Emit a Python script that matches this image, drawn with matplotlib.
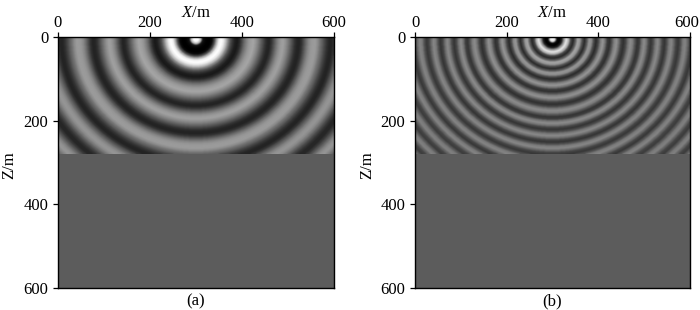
import numpy as np
import matplotlib
matplotlib.use('Agg')
import matplotlib.pyplot as plt
from matplotlib.transforms import ScaledTranslation

plt.rcParams['font.family'] = ['Liberation Serif', 'DejaVu Serif']
plt.rcParams['mathtext.fontset'] = 'custom'
plt.rcParams['mathtext.it'] = 'Liberation Serif:italic'
plt.rcParams['mathtext.rm'] = 'Liberation Serif'

# gray level every 5 m away from the source
radius_step = 5
gray_a = [255, 255, 190, 20, 5, 0, 0, 10, 70, 170, 240, 255, 235, 190, 130, 80, 50, 30, 25, 40,
          70, 105, 130, 150, 160, 165, 150, 130, 105, 80, 55, 38, 35, 55, 85, 115, 140, 155, 160, 145,
          125, 100, 75, 50, 37, 35, 50, 80, 110, 135, 150, 155, 155, 140, 115, 95, 70, 50, 37, 35,
          50, 80, 105, 130, 145, 150, 140, 120, 95, 70, 50, 38, 38, 55, 80, 105, 130, 145, 150, 135,
          115, 95, 70, 50, 38]
gray_b = [255, 230, 10, 0, 30, 150, 230, 180, 70, 40, 90, 165, 150, 80, 42, 85, 150, 140, 75, 42,
          70, 125, 150, 115, 60, 48, 85, 130, 145, 110, 65, 48, 70, 115, 140, 125, 85, 52, 62, 115,
          140, 118, 72, 52, 75, 118, 138, 110, 68, 52, 80, 122, 135, 105, 68, 55, 80, 122, 132, 105,
          68, 55, 85, 122, 132, 100, 68, 60, 90, 122, 128, 98, 68, 60, 90, 122, 128, 98, 68, 60,
          90, 122, 128, 98, 68]

source_x = 300
source_z = 7
wave_depth = 280
x_ticks = [0, 200, 400, 600]
z_ticks = [0, 200, 400, 600]
below_gray = 92


def smooth(img, size=5):
    """ Small box blur, the source picture is soft """
    pad = size // 2
    kernel = np.ones(size) / size
    img = np.pad(img.astype(float), pad, mode='edge')
    img = np.apply_along_axis(lambda v: np.convolve(v, kernel, mode='same'), 0, img)
    img = np.apply_along_axis(lambda v: np.convolve(v, kernel, mode='same'), 1, img)
    return img[pad:-pad, pad:-pad]


def wave_image(gray):
    """ Look up each 1 m cell in the radial gray list """
    x = np.arange(0, 601)
    z = np.arange(0, wave_depth + 1)
    xx, zz = np.meshgrid(x, z)
    r = np.hypot(xx - source_x, zz - source_z)
    idx = np.round(r / radius_step).astype(int)
    return smooth(np.array(gray)[idx])


def draw_panel(pos, gray, label):
    ax = fig.add_axes(pos)
    ax.set_facecolor(str(below_gray / 255))
    ax.imshow(wave_image(gray), cmap='gray', vmin=0, vmax=255, aspect='auto',
              interpolation='bilinear', extent=[0, 600, wave_depth, 0])
    ax.set_xlim(0, 600)
    ax.set_ylim(600, 0)
    ax.set_xticks(x_ticks)
    ax.set_yticks(z_ticks)
    ax.xaxis.tick_top()
    ax.xaxis.set_label_position('top')
    ax.tick_params(labelsize=12, length=3.5, width=0.9)
    ax.tick_params(axis='x', pad=1)
    ax.tick_params(axis='y', pad=3.5)
    ax.set_xlabel('$X$/m', fontsize=12, labelpad=-1.5)
    ax.set_ylabel('Z/m', fontsize=12)
    ax.yaxis.set_label_coords(-0.146, 0.49)
    for s in ax.spines.values():
        s.set_linewidth(1.0)
    ax.text(0.5, -0.02, label, transform=ax.transAxes, ha='center', va='top', fontsize=12)
    return ax


fig = plt.figure(figsize=(7, 3.1), dpi=100)
draw_panel([58 / 700, 1 - 288 / 310, 276 / 700, 251 / 310], gray_a, '(a)')
ax_b = draw_panel([415 / 700, 1 - 288 / 310, 275 / 700, 251 / 310], gray_b, '(b)')
# keep the last label inside the figure
last = ax_b.get_xticklabels()[-1]
last.set_transform(last.get_transform() + ScaledTranslation(-3 / 100, 0, fig.dpi_scale_trans))
fig.savefig('out.png', dpi=100)
plt.close()
